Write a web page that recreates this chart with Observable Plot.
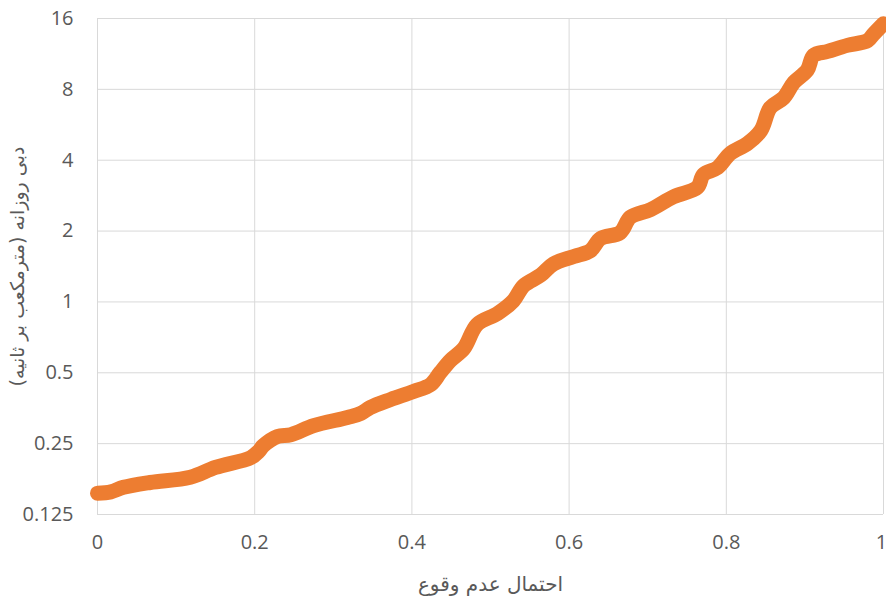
<!DOCTYPE html>
<html>
<head>
<meta charset="utf-8">
<script src="https://cdn.jsdelivr.net/npm/d3@7"></script>
<script src="https://cdn.jsdelivr.net/npm/@observablehq/plot@0.6"></script>
<style>
  html, body { margin: 0; padding: 0; background: #fff; }
  #chart svg { display: block; }
</style>
</head>
<body>
<div id="chart"></div>
<script>
// Non-exceedance probability (x) and daily discharge (y, m³/s)
const probability = [0, 0.017, 0.033, 0.067, 0.118, 0.150, 0.195, 0.205, 0.211, 0.229, 0.246, 0.275, 0.318, 0.335, 0.347, 0.373, 0.402, 0.424, 0.436, 0.449, 0.466, 0.483, 0.509, 0.529, 0.542, 0.564, 0.580, 0.606, 0.627, 0.640, 0.665, 0.678, 0.704, 0.733, 0.763, 0.771, 0.789, 0.805, 0.827, 0.844, 0.856, 0.873, 0.886, 0.903, 0.911, 0.929, 0.954, 0.980, 0.987, 1.0];
const discharge = [0.154, 0.156, 0.163, 0.171, 0.180, 0.198, 0.218, 0.232, 0.245, 0.268, 0.273, 0.298, 0.323, 0.336, 0.356, 0.385, 0.416, 0.446, 0.501, 0.564, 0.634, 0.802, 0.893, 1.01, 1.17, 1.30, 1.45, 1.56, 1.65, 1.86, 1.97, 2.29, 2.47, 2.80, 3.06, 3.48, 3.72, 4.27, 4.71, 5.35, 6.69, 7.37, 8.56, 9.65, 11.15, 11.6, 12.3, 12.9, 13.7, 15.2];
const xTicks = [0, 0.2, 0.4, 0.6, 0.8, 1];
const yTicks = [0.125, 0.25, 0.5, 1, 2, 4, 8, 16];
const xLabel = "احتمال عدم وقوع";
const yLabel = "دبی روزانه (مترمکعب بر ثانیه)";

const data = probability.map((p, i) => ({p, q: discharge[i]}));
const tickFont = "'Open Sans', 'DejaVu Sans', sans-serif";
const arabicFont = "'DejaVu Sans', sans-serif";
const lastX = xTicks[xTicks.length - 1];

const chart = Plot.plot({
  width: 886,
  height: 601,
  marginLeft: 97,
  marginRight: 3,
  marginTop: 18,
  marginBottom: 87,
  style: {fontFamily: tickFont, fontSize: "20px", color: "#595959", background: "#fff", overflow: "visible"},
  x: {domain: [0, 1]},
  y: {type: "log", base: 2, domain: [0.125, 16]},
  marks: [
    Plot.gridX(xTicks, {stroke: "#D9D9D9", strokeOpacity: 1, strokeWidth: 1}),
    Plot.gridY(yTicks, {stroke: "#D9D9D9", strokeOpacity: 1, strokeWidth: 1}),
    Plot.axisX(xTicks.filter(d => d !== lastX), {tickSize: 0, tickPadding: 20, tickFormat: d => String(d), label: null, fontSize: 20, fontFamily: tickFont}),
    Plot.axisX([lastX], {tickSize: 0, tickPadding: 20, tickFormat: d => String(d), label: null, fontSize: 20, fontFamily: tickFont, dx: -2}),
    Plot.axisY(yTicks, {tickSize: 0, tickPadding: 24, tickFormat: d => String(d), label: null, fontSize: 20, fontFamily: tickFont}),
    Plot.axisX({ticks: [], tickSize: 0, label: xLabel, labelAnchor: "center", labelArrow: "none", labelOffset: 76, fontFamily: arabicFont, fontSize: 20}),
    Plot.axisY({ticks: [], tickSize: 0, label: yLabel, labelAnchor: "center", labelArrow: "none", labelOffset: 87, fontFamily: arabicFont, fontSize: 19}),
    Plot.line(data, {x: "p", y: "q", curve: "catmull-rom", stroke: "#ED7D31", strokeWidth: 15, strokeLinecap: "round", strokeLinejoin: "round"})
  ]
});
document.getElementById("chart").appendChild(chart);
</script>
</body>
</html>
